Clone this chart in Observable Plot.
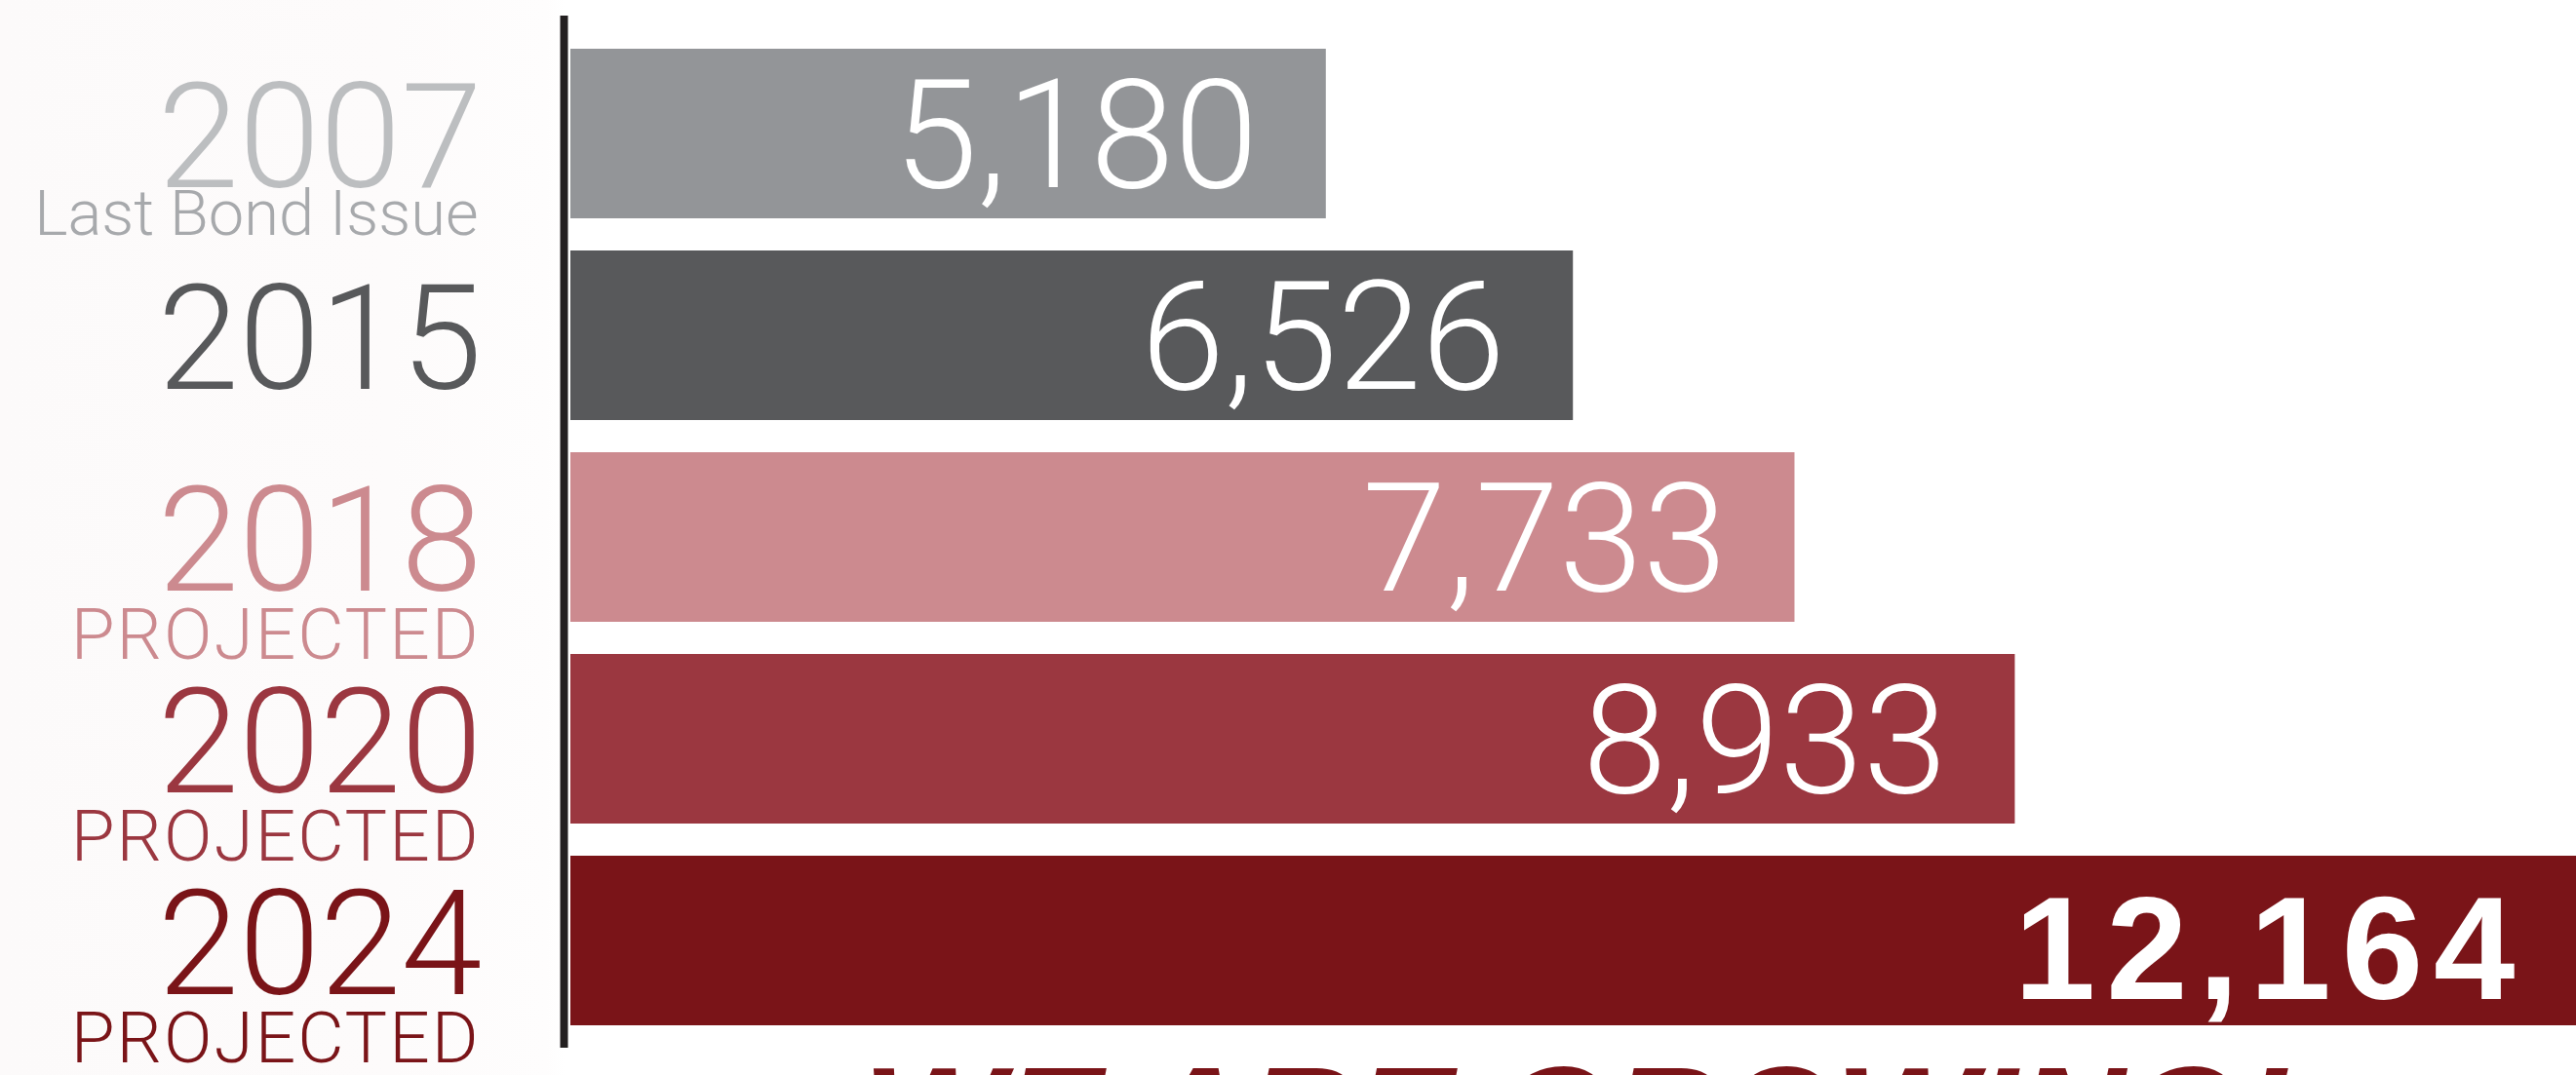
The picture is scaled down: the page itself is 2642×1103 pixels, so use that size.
<!DOCTYPE html>
<html>
<head>
<meta charset="utf-8">
<script src="https://cdn.jsdelivr.net/npm/d3@7"></script>
<script src="https://cdn.jsdelivr.net/npm/@observablehq/plot@0.6"></script>
<style>
  html, body { margin: 0; padding: 0; overflow: hidden; }
  body {
    width: 2642px; height: 1103px;
    background: linear-gradient(to right, #fcfafa 0px, #fdfbfb 400px, #fefdfd 560px, #ffffff 580px);
  }
  #chart svg { display: block; }
</style>
</head>
<body>
<div id="chart"></div>
<script>
// ---- data ----
const years = ["2007", "2015", "2018", "2020", "2024"];
const subLabels = ["Last Bond Issue", "", "PROJECTED", "PROJECTED", "PROJECTED"];
const students = [5180, 6526, 7733, 8933, 12164];
const title = "WE ARE GROWING!";

// ---- colours ----
const barColors = ["#939598", "#58595b", "#cc8a8f", "#9b3740", "#7a1418"];
const yearColors = ["#bcbec0", "#58595b", "#cc8a8f", "#9b3740", "#7a1418"];
const subColors = ["#a7a9ac", "#58595b", "#cc8a8f", "#9b3740", "#7a1418"];

const rows = years.map((year, i) => ({year, sub: subLabels[i], value: students[i], i}));
const last = rows.length - 1;
const fmt = d3.format(",");
const light = "Roboto, 'Open Sans', 'Liberation Sans', sans-serif";

const chart = Plot.plot({
  width: 2642,
  height: 1103,
  marginTop: 49,
  marginBottom: 51,
  marginLeft: 585,
  marginRight: 0,
  style: {background: "transparent"},
  x: {domain: [1065, 11990], clamp: true, axis: null},
  y: {domain: years, paddingInner: 0.16, paddingOuter: 0, axis: null},
  color: {domain: years, range: barColors},
  marks: [
    Plot.barX(rows, {x: "value", y: "year", fill: "year"}),
    Plot.ruleX([0], {stroke: "#231f20", strokeWidth: 8, dx: -7, insetTop: -33, insetBottom: -23}),
    // year labels
    Plot.text(rows, {
      y: "year", text: "year", frameAnchor: "left", textAnchor: "end",
      dx: -91, dy: 54, lineAnchor: "bottom",
      fontSize: 150, fontWeight: 300, fontFamily: light,
      fill: d => yearColors[d.i]
    }),
    // sub labels
    Plot.text(rows, {
      filter: d => d.i === 0,
      y: "year", text: "sub", frameAnchor: "left", textAnchor: "end",
      dx: -95, dy: 103, lineAnchor: "bottom",
      fontSize: 65, fontWeight: 300, fontFamily: light,
      fill: d => subColors[d.i]
    }),
    Plot.text(rows, {
      filter: d => d.i > 0 && d.sub,
      y: "year", text: "sub", frameAnchor: "left", textAnchor: "end",
      dx: -93, dy: 124, lineAnchor: "bottom",
      fontSize: 73, fontWeight: 300, fontFamily: light,
      fill: d => subColors[d.i]
    }),
    // values
    Plot.text(rows, {
      filter: d => d.i !== last,
      x: "value", y: "year", text: d => fmt(d.value),
      textAnchor: "end", dx: -70, dy: 54, lineAnchor: "bottom",
      fontSize: 155, fontWeight: 300, fontFamily: light, fill: "white"
    }),
    Plot.text(rows, {
      filter: d => d.i === last,
      x: "value", y: "year", text: d => fmt(d.value),
      textAnchor: "end", dx: -52, dy: 59, lineAnchor: "bottom",
      fontSize: 150, fontWeight: 700, fontFamily: "'Liberation Sans', Arial, sans-serif",
      fill: "white"
    }),
    // title (cut off by the bottom of the picture)
    Plot.text([title], {
      text: d => d, frameAnchor: "bottom", lineAnchor: "bottom",
      dx: 3, dy: 148,
      fontSize: 153, fontWeight: "bold", fontStyle: "italic",
      fontFamily: "'Liberation Sans', Arial, sans-serif", fill: "#7a1418"
    })
  ]
});
const svg = d3.select(chart);
svg.selectAll("text")
  .filter(function() { return this.textContent === fmt(students[last]); })
  .style("letter-spacing", "11px");
svg.selectAll("text")
  .filter(function() { return this.textContent === "PROJECTED"; })
  .style("letter-spacing", "2px");
document.getElementById("chart").appendChild(chart);
</script>
</body>
</html>
